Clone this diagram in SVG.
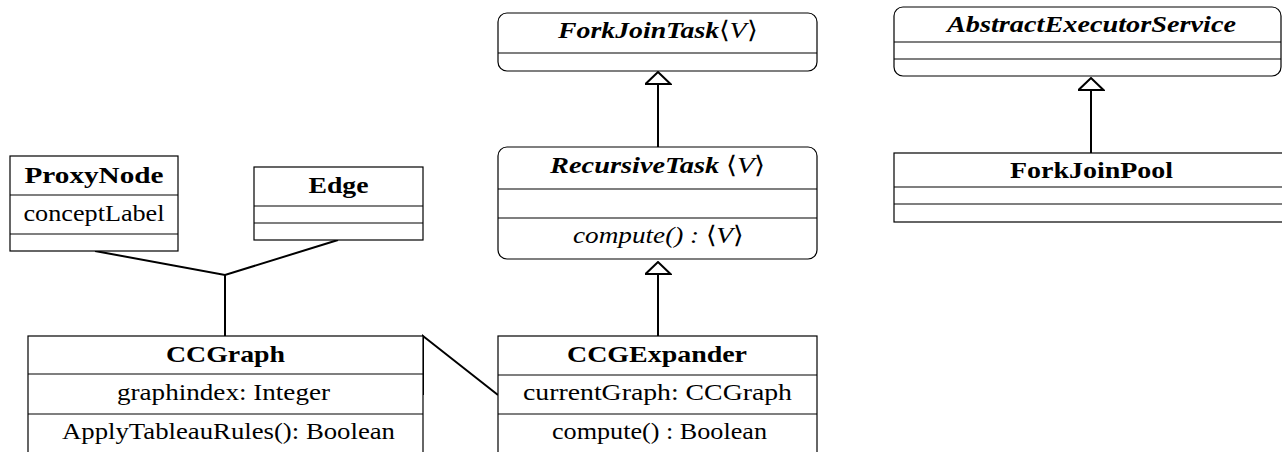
<svg xmlns="http://www.w3.org/2000/svg" width="1282" height="452" viewBox="0 0 1282 452">
<defs>
<style>
.box{fill:#fff;stroke:#000;stroke-width:1.2}
.div{stroke:#000;stroke-width:1.2;fill:none}
.con{stroke:#000;stroke-width:2;fill:none}
text{font-family:'Liberation Serif','Times New Roman',serif;font-size:24px;fill:#000;text-anchor:middle}
.b{font-weight:bold}
.bi{font-weight:bold;font-style:italic}
.i{font-style:italic}
.m{font-style:normal;font-weight:normal}
</style>
<marker id="gen" viewBox="-1 -1 14 27" refX="12" refY="12.5" markerWidth="14" markerHeight="27" markerUnits="userSpaceOnUse" orient="auto">
<path d="M0,0 L12,12.5 L0,25 Z" fill="#fff" stroke="#000" stroke-width="2" stroke-linejoin="miter"/>
</marker>
</defs>
<rect width="1282" height="452" fill="#fff"/>

<g id="connectors">
<path class="con" d="M95,251 L225,275 L338,240"/>
<path class="con" d="M225,275 L225,336"/>
<path class="con" d="M423,395 L423,336 L498,395"/>
<path class="con" d="M658,336 L658,262" marker-end="url(#gen)"/>
<path class="con" d="M658,147 L658,72" marker-end="url(#gen)"/>
<path class="con" d="M1091,153 L1091,78" marker-end="url(#gen)"/>
</g>

<g id="ProxyNode">
<rect class="box" x="10" y="156" width="168" height="95"/>
<path class="div" d="M10,195 H178 M10,234 H178"/>
<text class="b" x="94" y="183" textLength="139" lengthAdjust="spacingAndGlyphs">ProxyNode</text>
<text x="94" y="221" textLength="141" lengthAdjust="spacingAndGlyphs">conceptLabel</text>
</g>

<g id="Edge">
<rect class="box" x="254" y="167" width="169" height="73"/>
<path class="div" d="M254,206 H423 M254,223 H423"/>
<text class="b" x="338.5" y="193" textLength="60" lengthAdjust="spacingAndGlyphs">Edge</text>
</g>

<g id="CCGraph">
<rect class="box" x="28" y="336" width="395" height="140"/>
<path class="div" d="M28,374 H423 M28,414 H423"/>
<text class="b" x="225.5" y="362" textLength="119" lengthAdjust="spacingAndGlyphs">CCGraph</text>
<text x="223.5" y="400" textLength="213" lengthAdjust="spacingAndGlyphs">graphindex: Integer</text>
<text x="228.5" y="439" textLength="333" lengthAdjust="spacingAndGlyphs">ApplyTableauRules(): Boolean</text>
</g>

<g id="CCGExpander">
<rect class="box" x="498" y="336" width="319" height="140"/>
<path class="div" d="M498,375 H817 M498,414 H817"/>
<text class="b" x="657" y="362" textLength="180" lengthAdjust="spacingAndGlyphs">CCGExpander</text>
<text x="657.5" y="400" textLength="269" lengthAdjust="spacingAndGlyphs">currentGraph: CCGraph</text>
<text x="659.5" y="439" textLength="215" lengthAdjust="spacingAndGlyphs">compute() : Boolean</text>
</g>

<g id="ForkJoinTask">
<rect class="box" x="498" y="13" width="319" height="58" rx="9"/>
<path class="div" d="M498,53 H817"/>
<text x="657.5" y="38" textLength="199" lengthAdjust="spacingAndGlyphs"><tspan class="bi">ForkJoinTask</tspan><tspan class="m">⟨</tspan><tspan class="i">V</tspan><tspan class="m">⟩</tspan></text>
</g>

<g id="RecursiveTask">
<rect class="box" x="498" y="147" width="319" height="112" rx="9"/>
<path class="div" d="M498,189 H817 M498,218 H817"/>
<text x="657.5" y="173" textLength="215" lengthAdjust="spacingAndGlyphs"><tspan class="bi">RecursiveTask</tspan><tspan class="m"> ⟨</tspan><tspan class="i">V</tspan><tspan class="m">⟩</tspan></text>
<text x="658" y="243" textLength="170" lengthAdjust="spacingAndGlyphs"><tspan class="i">compute() : </tspan><tspan class="m">⟨</tspan><tspan class="i">V</tspan><tspan class="m">⟩</tspan></text>
</g>

<g id="AbstractExecutorService">
<rect class="box" x="894" y="7" width="387" height="69" rx="9"/>
<path class="div" d="M894,42 H1281 M894,59 H1281"/>
<text class="bi" x="1091.5" y="32" textLength="289" lengthAdjust="spacingAndGlyphs">AbstractExecutorService</text>
</g>

<g id="ForkJoinPool">
<rect class="box" x="894" y="153" width="400" height="69"/>
<path class="div" d="M894,187 H1294 M894,204 H1294"/>
<text class="b" x="1091.5" y="178" textLength="163" lengthAdjust="spacingAndGlyphs">ForkJoinPool</text>
</g>
</svg>
